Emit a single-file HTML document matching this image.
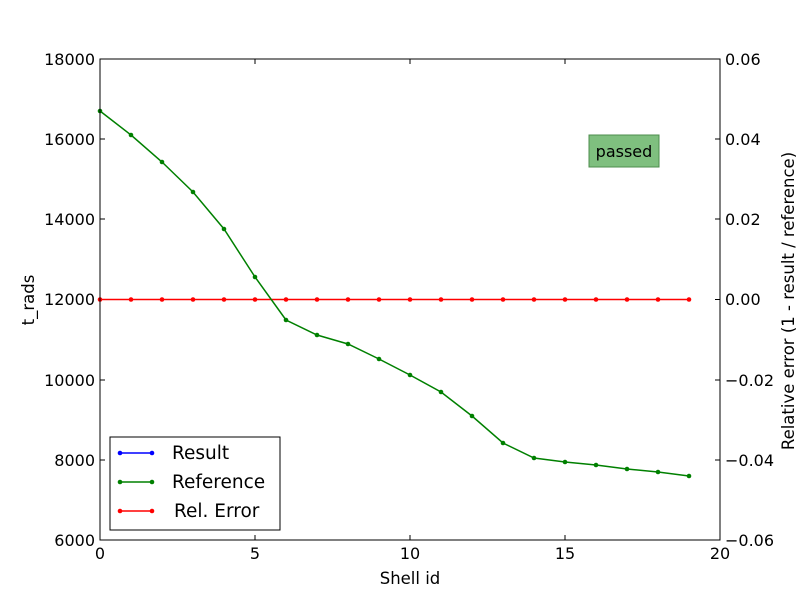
<!DOCTYPE html>
<html><head><style>body{margin:0;background:#fff}svg{display:block}</style></head><body>
<svg width="800" height="600" xmlns="http://www.w3.org/2000/svg" font-family="'DejaVu Sans','Liberation Sans',sans-serif">
<rect width="800" height="600" fill="#fff"/>
<g stroke="#000" stroke-width="1">
<path d="M255 540v-5M410 540v-5M565 540v-5M255 59v5M410 59v5M565 59v5"/>
<path d="M100 460h5M100 380h5M100 299.5h5M100 219h5M100 139h5"/>
<path d="M720 460h-5M720 380h-5M720 299.5h-5M720 219h-5M720 139h-5"/>
</g>
<g font-size="16" fill="#000">
<g text-anchor="middle">
<text x="100" y="559">0</text><text x="255" y="559">5</text><text x="410" y="559">10</text><text x="565" y="559">15</text><text x="720" y="559">20</text>
<text x="410" y="584" font-size="16.5">Shell id</text>
</g>
<g text-anchor="end">
<text x="95" y="546">6000</text><text x="95" y="466">8000</text><text x="95" y="386">10000</text><text x="95" y="305">12000</text><text x="95" y="225">14000</text><text x="95" y="145">16000</text><text x="95" y="65">18000</text>
</g>
<g text-anchor="start">
<text x="725" y="546">−0.06</text><text x="725" y="466">−0.04</text><text x="725" y="386">−0.02</text><text x="725" y="305">0.00</text><text x="725" y="225">0.02</text><text x="725" y="145">0.04</text><text x="725" y="65">0.06</text>
</g>
<text transform="translate(34 300) rotate(-90)" text-anchor="middle" font-size="16.5">t_rads</text>
<text transform="translate(794 301) rotate(-90)" text-anchor="middle" font-size="16.5">Relative error (1 - result / reference)</text>
</g>
<polyline fill="none" stroke="#f00" stroke-width="1.5" points="100,299.5 689,299.5"/>
<g fill="#f00">
<circle cx="100" cy="299.5" r="2.3"/><circle cx="131" cy="299.5" r="2.3"/><circle cx="162" cy="299.5" r="2.3"/><circle cx="193" cy="299.5" r="2.3"/><circle cx="224" cy="299.5" r="2.3"/><circle cx="255" cy="299.5" r="2.3"/><circle cx="286" cy="299.5" r="2.3"/><circle cx="317" cy="299.5" r="2.3"/><circle cx="348" cy="299.5" r="2.3"/><circle cx="379" cy="299.5" r="2.3"/><circle cx="410" cy="299.5" r="2.3"/><circle cx="441" cy="299.5" r="2.3"/><circle cx="472" cy="299.5" r="2.3"/><circle cx="503" cy="299.5" r="2.3"/><circle cx="534" cy="299.5" r="2.3"/><circle cx="565" cy="299.5" r="2.3"/><circle cx="596" cy="299.5" r="2.3"/><circle cx="627" cy="299.5" r="2.3"/><circle cx="658" cy="299.5" r="2.3"/><circle cx="689" cy="299.5" r="2.3"/>
</g>
<polyline fill="none" stroke="#008000" stroke-width="1.5" points="100,111 131,135 162,162 193,192 224,229 255,277 286,320 317,335 348,344 379,359 410,375 441,392 472,416 503,443 534,458 565,462 596,465 627,469 658,472 689,476"/>
<g fill="#008000">
<circle cx="100" cy="111" r="2.3"/><circle cx="131" cy="135" r="2.3"/><circle cx="162" cy="162" r="2.3"/><circle cx="193" cy="192" r="2.3"/><circle cx="224" cy="229" r="2.3"/><circle cx="255" cy="277" r="2.3"/><circle cx="286" cy="320" r="2.3"/><circle cx="317" cy="335" r="2.3"/><circle cx="348" cy="344" r="2.3"/><circle cx="379" cy="359" r="2.3"/><circle cx="410" cy="375" r="2.3"/><circle cx="441" cy="392" r="2.3"/><circle cx="472" cy="416" r="2.3"/><circle cx="503" cy="443" r="2.3"/><circle cx="534" cy="458" r="2.3"/><circle cx="565" cy="462" r="2.3"/><circle cx="596" cy="465" r="2.3"/><circle cx="627" cy="469" r="2.3"/><circle cx="658" cy="472" r="2.3"/><circle cx="689" cy="476" r="2.3"/>
</g>
<rect x="589" y="135" width="70" height="32" fill="#7fbf7f" stroke="#4c8c4c" stroke-width="1"/>
<text x="624" y="157" font-size="16" text-anchor="middle">passed</text>
<rect x="110" y="437" width="170" height="93" fill="#fff" stroke="#000" stroke-width="1"/>
<g stroke-width="1.5">
<line x1="120" y1="453" x2="152" y2="453" stroke="#00f"/><circle cx="120" cy="453" r="2.3" fill="#00f"/><circle cx="152" cy="453" r="2.3" fill="#00f"/>
<line x1="120" y1="482" x2="152" y2="482" stroke="#008000"/><circle cx="120" cy="482" r="2.3" fill="#008000"/><circle cx="152" cy="482" r="2.3" fill="#008000"/>
<line x1="120" y1="511" x2="152" y2="511" stroke="#f00"/><circle cx="120" cy="511" r="2.3" fill="#f00"/><circle cx="152" cy="511" r="2.3" fill="#f00"/>
</g>
<g font-size="18.5">
<text x="172" y="459">Result</text><text x="172" y="488">Reference</text><text x="174" y="517">Rel. Error</text>
</g>
<rect x="100" y="59" width="620" height="481" fill="none" stroke="#000" stroke-width="1"/>
</svg>
</body></html>
